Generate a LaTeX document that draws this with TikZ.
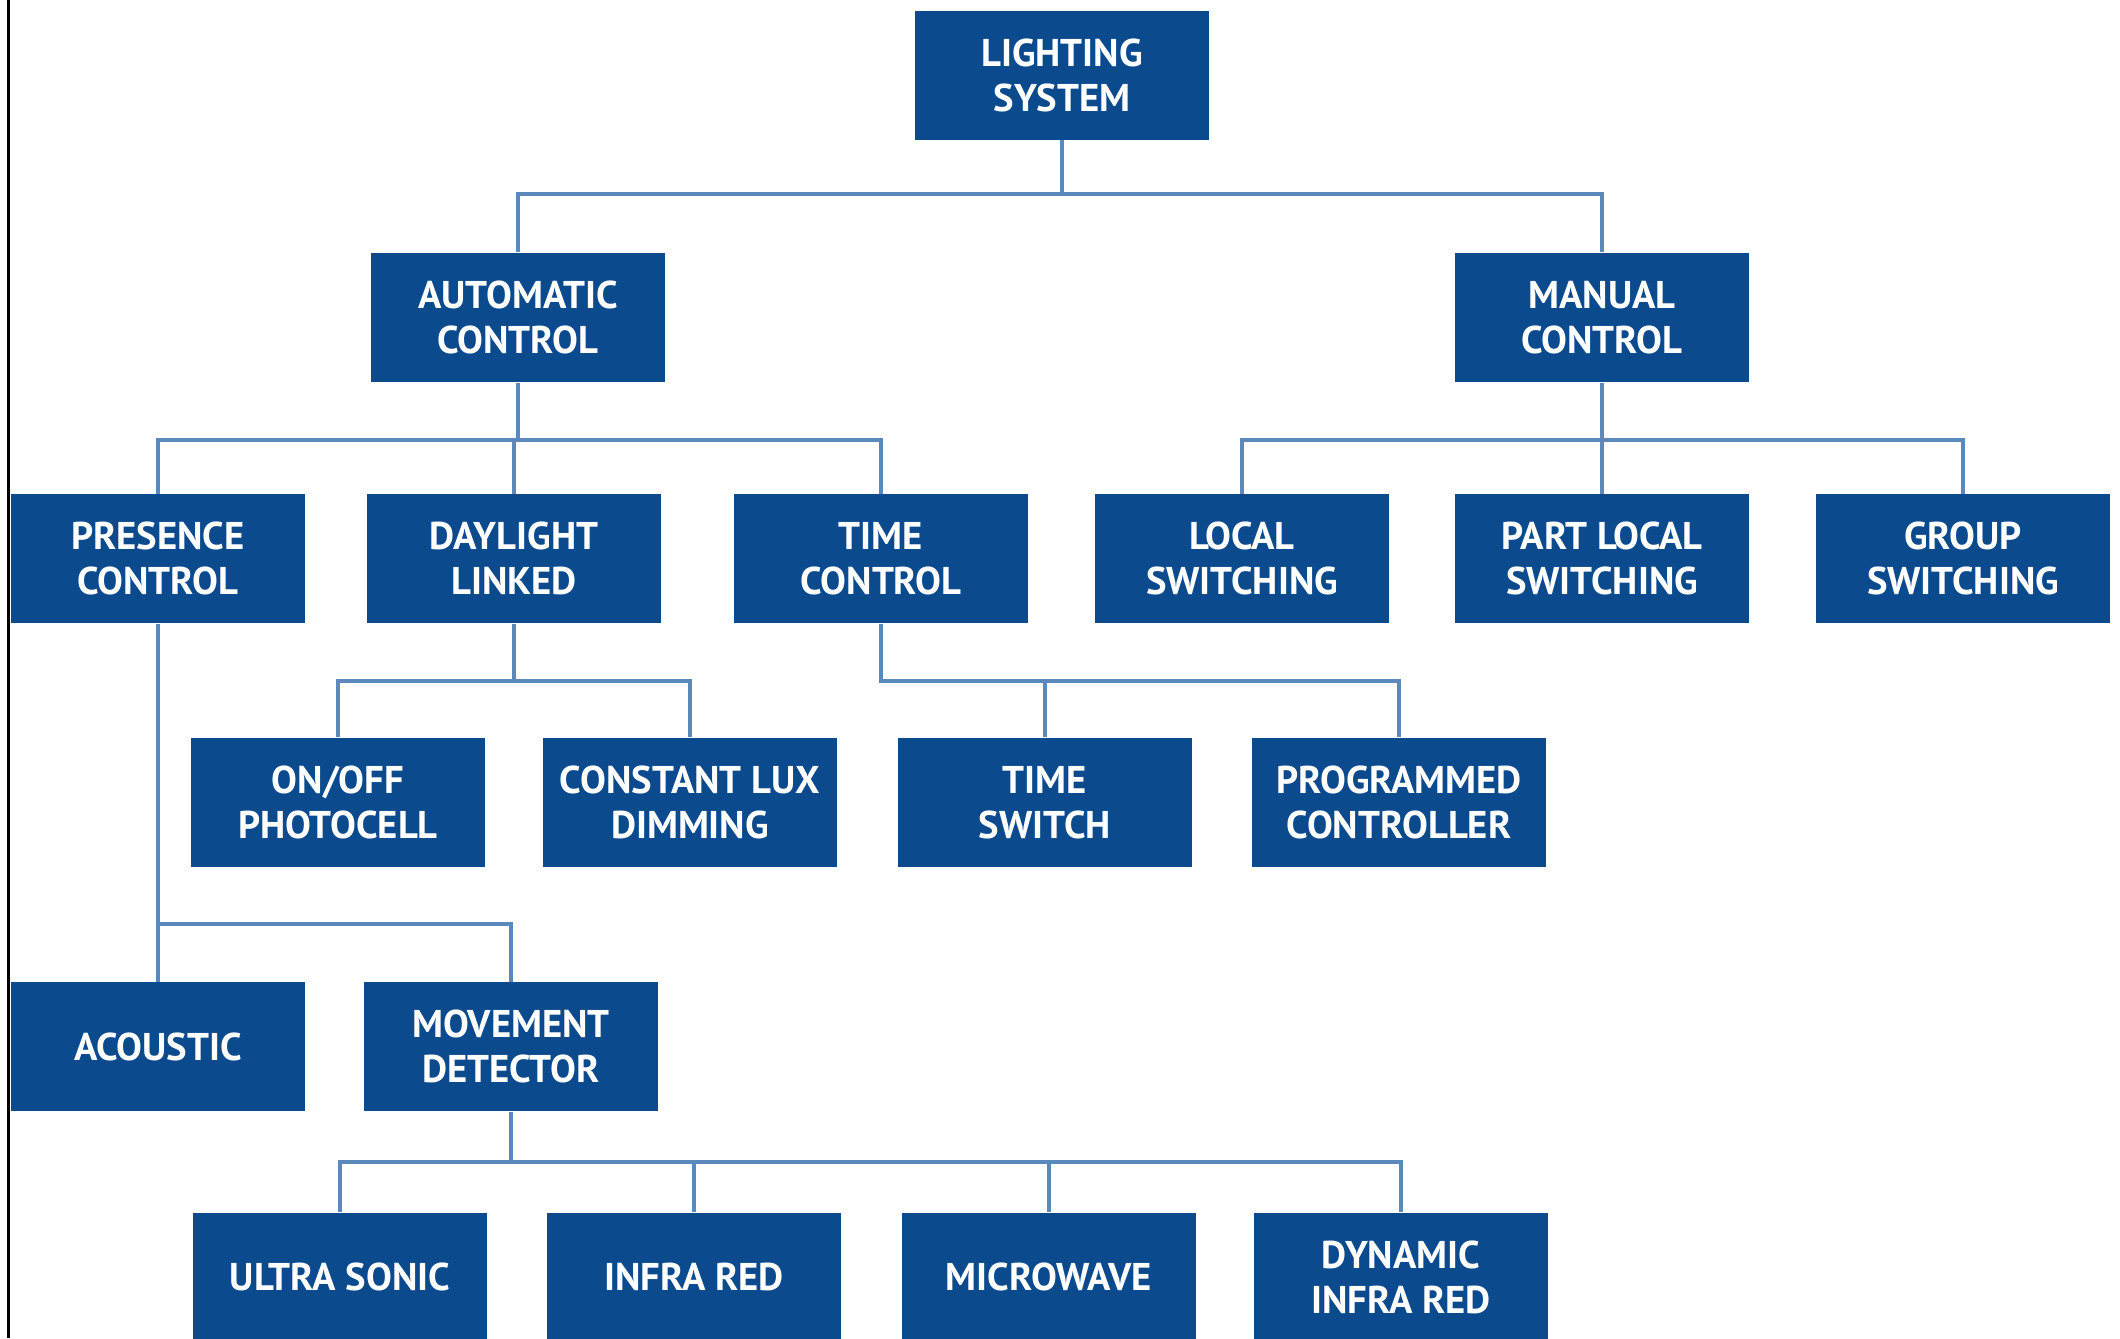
\documentclass[tikz,border=0pt]{standalone}
\usepackage{fontspec}
\setsansfont{PT Sans}
\usepackage{tikz}
\usetikzlibrary{positioning,calc}
\definecolor{boxblue}{RGB}{12,74,142}
\definecolor{linkblue}{RGB}{92,137,187}

\begin{document}
\begin{tikzpicture}[
  box/.style={fill=boxblue, draw=none, inner sep=0pt, minimum width=2.94cm,
              minimum height=1.29cm, align=center, text=white,
              font=\sffamily\bfseries\fontsize{11}{12.8}\selectfont},
  link/.style={draw=linkblue, line width=1.1pt}
]
  \useasboundingbox (0,0) rectangle (21.2,-13.38);
  % frame edge on the left
  \draw[line width=0.03cm] (0.09,0) -- (0.09,-13.38);

  % Top: root
  \node[box] (light) at (10.62,-0.75) {LIGHTING\\SYSTEM};

  % Second level
  \node[box, below=1.12cm of light, xshift=-5.44cm] (auto) {AUTOMATIC\\CONTROL};
  \node[box, below=1.12cm of light, xshift=5.40cm] (manual) {MANUAL\\CONTROL};
  \coordinate (b1) at ($(light.south)+(0,-0.54)$);
  \draw[link] (light.south) -- (b1);
  \draw[link] (auto.north) |- (b1) -| (manual.north);

  % Automatic branch
  \node[box, below=1.11cm of auto, xshift=-3.60cm] (pres) {PRESENCE\\CONTROL};
  \node[box, below=1.11cm of auto, xshift=-0.04cm] (dayl) {DAYLIGHT\\LINKED};
  \node[box, below=1.11cm of auto, xshift=3.63cm] (timec) {TIME\\CONTROL};
  \coordinate (b2) at ($(auto.south)+(0,-0.57)$);
  \draw[link] (auto.south) -- (b2);
  \draw[link] (pres.north) |- (b2) -| (timec.north);
  \draw[link] (dayl.north) -- (dayl.north |- b2);

  % Manual branch
  \node[box, below=1.11cm of manual, xshift=-3.60cm] (local) {LOCAL\\SWITCHING};
  \node[box, below=1.11cm of manual] (part) {PART LOCAL\\SWITCHING};
  \node[box, below=1.11cm of manual, xshift=3.61cm] (group) {GROUP\\SWITCHING};
  \coordinate (b3) at ($(manual.south)+(0,-0.57)$);
  \draw[link] (manual.south) -- (part.north);
  \draw[link] (local.north) |- (b3) -| (group.north);

  % Daylight linked
  \node[box, below=1.13cm of dayl, xshift=-1.76cm] (onoff) {ON/OFF\\PHOTOCELL};
  \node[box, below=1.13cm of dayl, xshift=1.76cm] (constlux) {CONSTANT LUX\\DIMMING};
  \coordinate (b4) at ($(dayl.south)+(0,-0.57)$);
  \draw[link] (dayl.south) -- (b4);
  \draw[link] (onoff.north) |- (b4) -| (constlux.north);

  % Time control
  \node[box, below=1.13cm of timec, xshift=1.64cm] (tswitch) {TIME\\SWITCH};
  \node[box, below=1.13cm of timec, xshift=5.18cm] (prog) {PROGRAMMED\\CONTROLLER};
  \coordinate (b5) at ($(timec.south)+(0,-0.57)$);
  \draw[link] (timec.south) -- (b5) -| (prog.north);
  \draw[link] (tswitch.north) -- (tswitch.north |- b5);

  % Presence control
  \node[box, below=3.575cm of pres] (acoustic) {ACOUSTIC};
  \node[box, below=3.575cm of pres, xshift=3.53cm] (movement) {MOVEMENT\\DETECTOR};
  \coordinate (b6) at ($(pres.south)+(0,-3.0)$);
  \draw[link] (pres.south) -- (acoustic.north);
  \draw[link] (b6) -| (movement.north);

  % Movement detector
  \node[box, below=1.0cm of movement, xshift=-1.71cm] (ultra) {ULTRA SONIC};
  \node[box, below=1.0cm of movement, xshift=1.83cm] (infra) {INFRA RED};
  \node[box, below=1.0cm of movement, xshift=5.38cm] (micro) {MICROWAVE};
  \node[box, below=1.0cm of movement, xshift=8.90cm] (dynir) {DYNAMIC\\INFRA RED};
  \coordinate (b7) at ($(movement.south)+(0,-0.50)$);
  \draw[link] (movement.south) -- (b7);
  \draw[link] (ultra.north) |- (b7) -| (dynir.north);
  \draw[link] (infra.north) -- (infra.north |- b7);
  \draw[link] (micro.north) -- (micro.north |- b7);
\end{tikzpicture}
\end{document}
